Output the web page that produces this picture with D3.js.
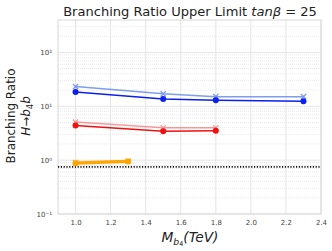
<!DOCTYPE html>
<html><head><meta charset="utf-8">
<script src="https://cdn.jsdelivr.net/npm/d3@7"></script>
<style>body{margin:0;background:#fff}</style>
</head><body>
<svg id="c" width="332" height="251"></svg>
<script>
const massA = [1.0, 1.5, 1.8, 2.3];
const massB = [1.0, 1.5, 1.8];
const massC = [1.0, 1.3];
const blueObs = [18.5, 13.7, 12.9, 12.4];
const blueExp = [23.2, 17.0, 15.1, 15.1];
const redObs = [4.4, 3.45, 3.5];
const redExp = [5.1, 4.0, 4.0];
const orangeObs = [0.88, 0.94];
const orangeExp = [0.90, 0.96];
const refLine = 0.75;
const xTicks = [1.0, 1.2, 1.4, 1.6, 1.8, 2.0, 2.2, 2.4];
const yTicks = [0.1, 1, 10, 100];

const svg = d3.select("#c");
const L = 58, R = 321, T = 20, B = 214;
const x = d3.scaleLinear().domain([0.9, 2.4]).range([L, R]);
const y = d3.scaleLog().domain([0.1, 400]).range([B, T]);

// minor grid
const minors = [];
for (let e = -1; e <= 2; e++) for (let m = 2; m <= 9; m++) { const v = m * Math.pow(10, e); if (v < 400) minors.push(v); }
svg.append("g").selectAll("line").data(minors).join("line")
  .attr("x1", L).attr("x2", R).attr("y1", d => y(d)).attr("y2", d => y(d))
  .attr("stroke", "#dcdcdc").attr("stroke-width", 0.6).attr("stroke-dasharray", "1,1");
// major grid
svg.append("g").selectAll("line").data(xTicks).join("line")
  .attr("x1", d => x(d)).attr("x2", d => x(d)).attr("y1", T).attr("y2", B)
  .attr("stroke", "#e5e5e5").attr("stroke-width", 1);
svg.append("g").selectAll("line").data(yTicks).join("line")
  .attr("x1", L).attr("x2", R).attr("y1", d => y(d)).attr("y2", d => y(d))
  .attr("stroke", "#e5e5e5").attr("stroke-width", 1);
// frame
svg.append("rect").attr("x", L).attr("y", T).attr("width", R - L).attr("height", B - T)
  .attr("fill", "none").attr("stroke", "#d8d8d8").attr("stroke-width", 1);

// ticks labels
const xa = svg.append("g").attr("transform", `translate(0,${B})`)
  .call(d3.axisBottom(x).tickValues(xTicks).tickFormat(d3.format(".1f")).tickSize(0).tickPadding(6));
xa.select(".domain").remove();
xa.selectAll("text").attr("font-family", "DejaVu Sans").attr("font-size", 7).attr("fill", "#444");

const sup = {"-1": "⁻¹", "0": "⁰", "1": "¹", "2": "²"};
const ya = svg.append("g").attr("transform", `translate(${L},0)`)
  .call(d3.axisLeft(y).tickValues(yTicks).tickFormat(d => "10" + sup[Math.round(Math.log10(d))]).tickSize(0).tickPadding(6));
ya.select(".domain").remove();
ya.selectAll("text").attr("font-family", "DejaVu Sans").attr("font-size", 7).attr("fill", "#444");

// reference dotted line
svg.append("line").attr("x1", L).attr("x2", R).attr("y1", y(refLine)).attr("y2", y(refLine))
  .attr("stroke", "#111").attr("stroke-width", 1.6).attr("stroke-dasharray", "1.2,1.6");

const line = d3.line().x(d => x(d[0])).y(d => y(d[1]));
function series(xs, ys, color, opacity, marker, width) {
  const pts = xs.map((v, i) => [v, ys[i]]);
  const g = svg.append("g").attr("opacity", opacity);
  g.append("path").attr("d", line(pts)).attr("fill", "none").attr("stroke", color).attr("stroke-width", width);
  if (marker === "o") {
    g.selectAll("circle").data(pts).join("circle").attr("cx", d => x(d[0])).attr("cy", d => y(d[1])).attr("r", 3).attr("fill", color);
  } else {
    g.selectAll("path.m").data(pts).join("path").attr("class", "m")
      .attr("d", d => { const cx = x(d[0]), cy = y(d[1]), s = 2.6; return `M${cx-s},${cy-s}L${cx+s},${cy+s}M${cx-s},${cy+s}L${cx+s},${cy-s}`; })
      .attr("stroke", color).attr("stroke-width", 1.3);
  }
}
series(massA, blueExp, "#2a5ee8", 0.6, "x", 1.5);
series(massA, blueObs, "#0a1ff0", 1, "o", 1.5);
series(massB, redExp, "#f23a3a", 0.5, "x", 1.5);
series(massB, redObs, "#f01010", 1, "o", 1.5);
series(massC, orangeExp, "#ffa500", 0.8, "x", 2.5);
series(massC, orangeObs, "#ffa500", 1, "o", 3);

function fit(sel, target) {
  const base = +sel.attr("font-size");
  const w = sel.node().getComputedTextLength();
  const k = target / w;
  sel.attr("font-size", base * k);
  sel.selectAll("tspan").each(function () {
    const t = d3.select(this);
    if (t.attr("font-size")) t.attr("font-size", +t.attr("font-size") * k);
    if (t.attr("dy")) t.attr("dy", +t.attr("dy") * k);
  });
}

// title
const title = svg.append("text").attr("x", 190).attr("y", 16).attr("text-anchor", "middle")
  .attr("font-family", "DejaVu Sans").attr("font-size", 14).attr("fill", "#222");
title.append("tspan").text("Branching Ratio Upper Limit ");
title.append("tspan").attr("font-style", "italic").text("tanβ");
title.append("tspan").text(" = 25");
fit(title, 254);

// x label
const xl = svg.append("text").attr("x", 190).attr("y", 242).attr("text-anchor", "middle")
  .attr("font-family", "DejaVu Sans").attr("font-size", 14).attr("fill", "#222");
xl.append("tspan").attr("font-style", "italic").text("M");
xl.append("tspan").attr("font-style", "italic").attr("font-size", 9.5).attr("dy", 3).text("b");
xl.append("tspan").attr("font-size", 6.5).attr("dy", 1.5).text("4");
xl.append("tspan").attr("font-style", "italic").attr("dy", -4.5).text("(TeV)");
fit(xl, 57);

// y label
const yl = svg.append("g").attr("transform", `translate(0,116) rotate(-90)`);
const yl1 = yl.append("text").attr("x", 0).attr("y", 15).attr("text-anchor", "middle")
  .attr("font-family", "DejaVu Sans").attr("font-size", 14).attr("fill", "#222").text("Branching Ratio");
fit(yl1, 95);
const yl2 = yl.append("text").attr("x", 0).attr("y", 29.5).attr("text-anchor", "middle")
  .attr("font-family", "DejaVu Sans").attr("font-size", +yl1.attr("font-size")).attr("fill", "#222");
const f2 = +yl1.attr("font-size");
yl2.append("tspan").attr("font-style", "italic").text("H");
yl2.append("tspan").text("→");
yl2.append("tspan").attr("font-style", "italic").text("b");
yl2.append("tspan").attr("font-size", f2 * 0.7).attr("dy", 3).text("4");
yl2.append("tspan").attr("font-style", "italic").attr("dy", -3).text("b");
</script>
</body></html>
